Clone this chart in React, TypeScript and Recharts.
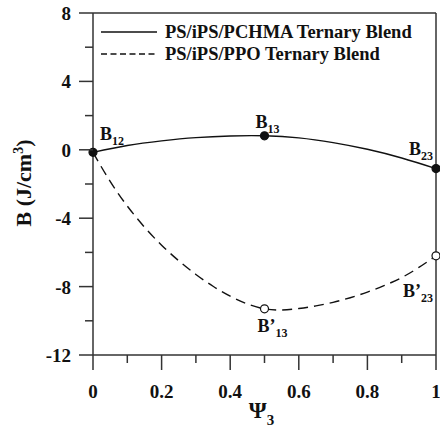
import React from 'react';
import { ComposedChart, Line, Scatter, XAxis, YAxis, ReferenceLine } from 'recharts';

// Solid curve: PS/iPS/PCHMA ternary blend
const psiSolid = [0, 0.1, 0.2, 0.3, 0.4, 0.5, 0.6, 0.7, 0.8, 0.9, 1];
const bSolid = [-0.15, 0.25, 0.52, 0.71, 0.81, 0.82, 0.7, 0.42, 0.03, -0.48, -1.1];

// Dashed curve: PS/iPS/PPO ternary blend
const psiDashed = [0, 0.05, 0.1, 0.15, 0.2, 0.25, 0.3, 0.35, 0.4, 0.45, 0.5, 0.55, 0.6, 0.65, 0.7, 0.75, 0.8, 0.85, 0.9, 0.95, 1];
const bDashed = [-0.15, -1.85, -3.29, -4.52, -5.58, -6.49, -7.29, -7.98, -8.56, -9.01, -9.3, -9.37, -9.28, -9.13, -8.92, -8.65, -8.32, -7.93, -7.47, -6.88, -6.2];

// Labelled points
const solidPointPsi = [0, 0.5, 1];
const solidPointB = [-0.15, 0.82, -1.1];
const solidPointSub = ['12', '13', '23'];
const dashedPointPsi = [0.5, 1];
const dashedPointB = [-9.3, -6.2];
const dashedPointSub = ['13', '23'];

const seriesNames = ['PS/iPS/PCHMA Ternary Blend', 'PS/iPS/PPO Ternary Blend'];
const yTicks = [-12, -10, -8, -6, -4, -2, 0, 2, 4, 6, 8];
const xTicks = [0, 0.1, 0.2, 0.3, 0.4, 0.5, 0.6, 0.7, 0.8, 0.9, 1];

const solidData = psiSolid.map((p, i) => ({ psi: p, b: bSolid[i] }));
const dashedData = psiDashed.map((p, i) => ({ psi: p, b: bDashed[i] }));
const solidPoints = solidPointPsi.map((p, i) => ({ psi: p, b: solidPointB[i], name: 'B', sub: solidPointSub[i] }));
const dashedPoints = dashedPointPsi.map((p, i) => ({ psi: p, b: dashedPointB[i], name: 'B\u2019', sub: dashedPointSub[i] }));

const FONT = "'Liberation Serif','Times New Roman',serif";
const AX = '#333';
const INK = '#111';

const labelOffsets: Record<string, [number, number]> = {
  'B12': [7, -12],
  'B13': [-9, -8],
  'B23': [-27, -14],
  'B\u201913': [-7, 23],
  'B\u201923': [-33, 41],
};

const PointLabel = ({ cx, cy, payload, open }: any) => {
  const key = payload.name + payload.sub;
  const [dx, dy] = labelOffsets[key] || [0, 0];
  return (
    <g>
      <circle cx={cx} cy={cy} r={4} fill={open ? '#fff' : INK} stroke={INK} strokeWidth={1.2} />
      <text x={cx + dx} y={cy + dy} fontFamily={FONT} fontWeight="bold" fontSize={18} fill={INK}>
        {payload.name}
        <tspan fontSize={12} dy={5}>{payload.sub}</tspan>
      </text>
    </g>
  );
};

const YTick = (props: any) => {
  const { x, y, payload } = props;
  const v = payload.value;
  const major = v % 4 === 0;
  return (
    <g>
      <line x1={x - (major ? 14 : 8)} x2={x} y1={y} y2={y} stroke={AX} strokeWidth={1.5} />
      {major && (
        <text x={x - 22} y={y} dy={7} textAnchor="end" fontFamily={FONT} fontWeight="bold" fontSize={19} fill={INK}>
          {v}
        </text>
      )}
    </g>
  );
};

const XTick = (props: any) => {
  const { x, y, payload } = props;
  const v = payload.value;
  const major = Math.round(v * 10) % 2 === 0;
  const label = v === 0 ? '0' : v === 1 ? '1' : v.toFixed(1);
  return (
    <g>
      <line x1={x} x2={x} y1={y} y2={y + (major ? 15 : 8)} stroke={AX} strokeWidth={1.5} />
      {major && (
        <text x={x} y={y + 43} textAnchor="middle" fontFamily={FONT} fontWeight="bold" fontSize={19} fill={INK}>
          {label}
        </text>
      )}
    </g>
  );
};

const YLabel = () => {
  const cy = 183;
  const cx = 31;
  return (
    <text x={cx} y={cy} transform={`rotate(-90 ${cx} ${cy})`} textAnchor="middle" fontFamily={FONT} fontWeight="bold" fontSize={22} fill={INK}>
      B (J/cm<tspan fontSize={14} dy={-8}>3</tspan><tspan dy={8}>)</tspan>
    </text>
  );
};

const XLabel = (props: any) => {
  const vb = props.viewBox;
  const cx = vb.x + vb.width / 2 - 3;
  return (
    <text x={cx} y={418} textAnchor="middle" fontFamily={FONT} fontWeight="bold" fontSize={23} fill={INK}>
      {'\u03A8'}<tspan fontSize={15} dy={7}>3</tspan>
    </text>
  );
};

export default function App() {
  return (
    <div style={{ position: 'relative', width: 440, height: 430 }}>
      <style>{`body{margin:0;background:#fff}`}</style>
      <ComposedChart width={440} height={430} margin={{ top: 13, right: 4, left: 0, bottom: 0 }}>
        <XAxis
          dataKey="psi"
          type="number"
          domain={[0, 1]}
          ticks={xTicks}
          interval={0}
          height={75}
          tickSize={0}
          tickMargin={0}
          tickLine={false}
          axisLine={{ stroke: AX, strokeWidth: 1.5 }}
          tick={<XTick />}
          label={<XLabel />}
        />
        <YAxis
          type="number"
          domain={[-12, 8]}
          ticks={yTicks}
          interval={0}
          width={93}
          tickSize={0}
          tickMargin={0}
          tickLine={false}
          axisLine={{ stroke: AX, strokeWidth: 1.5 }}
          tick={<YTick />}
          label={<YLabel />}
        />
        <ReferenceLine y={8} stroke={AX} strokeWidth={1.5} />
        <ReferenceLine x={1} stroke={AX} strokeWidth={1.5} />
        <Line data={solidData} dataKey="b" name={seriesNames[0]} type="natural" stroke={INK} strokeWidth={1.4} dot={false} isAnimationActive={false} />
        <Line data={dashedData} dataKey="b" name={seriesNames[1]} type="natural" stroke={INK} strokeWidth={1.4} strokeDasharray="10 6" dot={false} isAnimationActive={false} />
        <Scatter data={dashedPoints} dataKey="b" isAnimationActive={false} shape={(p: any) => <PointLabel {...p} open />} />
        <Scatter data={solidPoints} dataKey="b" isAnimationActive={false} shape={(p: any) => <PointLabel {...p} />} />
      </ComposedChart>
      <svg width={340} height={60} style={{ position: 'absolute', left: 95, top: 12 }}>
        <line x1={6} x2={62} y1={20} y2={20} stroke={INK} strokeWidth={1.5} />
        <text x={70} y={26} fontFamily={FONT} fontWeight="bold" fontSize={18.5} fill={INK}>{seriesNames[0]}</text>
        <line x1={6} x2={62} y1={42} y2={42} stroke={INK} strokeWidth={1.5} strokeDasharray="6 3.5" />
        <text x={70} y={48} fontFamily={FONT} fontWeight="bold" fontSize={18.5} fill={INK}>{seriesNames[1]}</text>
      </svg>
    </div>
  );
}
